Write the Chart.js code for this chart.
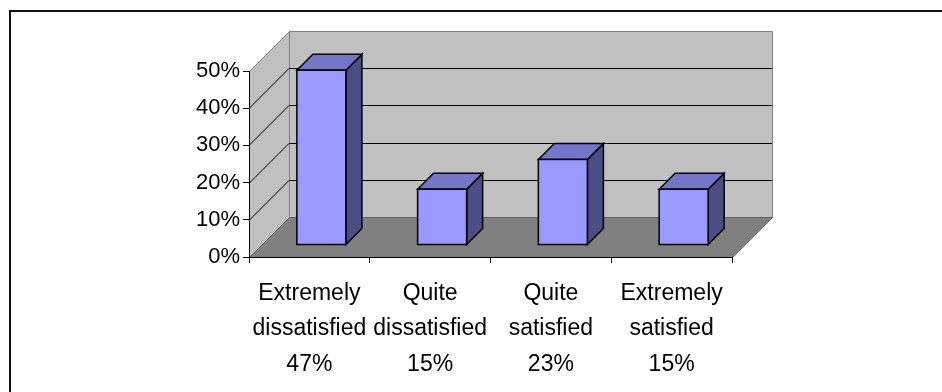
<!DOCTYPE html>
<html>
<head>
<meta charset="utf-8">
<script src="https://cdn.jsdelivr.net/npm/chart.js@4/dist/chart.umd.min.js"></script>
<style>
  html, body { margin: 0; padding: 0; background: #ffffff; overflow: hidden; }
  #wrap { position: relative; width: 942px; height: 392px; }
  #frame { position: absolute; left: 9px; top: 10px; width: 1000px; height: 500px;
           border-left: 2px solid #111; border-top: 2px solid #111; box-sizing: border-box; pointer-events: none; }
  canvas { position: absolute; left: 0; top: 0; }
</style>
</head>
<body>
<div id="wrap">
  <canvas id="c" width="942" height="392"></canvas>
  <div id="frame"></div>
</div>
<script>
// ---- data ----
const categoryNames = [
  ['Extremely', 'dissatisfied'],
  ['Quite', 'dissatisfied'],
  ['Quite', 'satisfied'],
  ['Extremely', 'satisfied']
];
const percentValues = [47, 15, 23, 15];
const yTickValues = [0, 10, 20, 30, 40, 50];

const labels = categoryNames.map((n, i) => n.concat([percentValues[i] + '%']));

// ---- 3D geometry (styles) ----
const DEPTH = 40;        // wall depth (px, 45 deg)
const BAR_SHIFT = 12;    // bar plane offset into depth
const BAR_DEPTH = 16;    // bar thickness
const WALL = '#c0c0c0', WALL_EDGE = '#808080', FLOOR = '#808080';
const BAR_FRONT = '#9999ff', BAR_TOP = '#7676c9', BAR_SIDE = '#4d4d85';

const walls3d = {
  id: 'walls3d',
  beforeDraw(chart) {
    const { ctx, chartArea: a, scales: { y } } = chart;
    const L = a.left, R = a.right, T = y.getPixelForValue(50), B = y.getPixelForValue(0);
    ctx.save();
    ctx.lineWidth = 1;
    // back wall
    ctx.fillStyle = WALL; ctx.strokeStyle = WALL_EDGE;
    ctx.beginPath();
    ctx.rect(L + DEPTH + 0.5, T - DEPTH + 0.5, R - L, B - T);
    ctx.fill(); ctx.stroke();
    // left wall
    ctx.beginPath();
    ctx.moveTo(L + 0.5, T + 0.5); ctx.lineTo(L + DEPTH + 0.5, T - DEPTH + 0.5);
    ctx.lineTo(L + DEPTH + 0.5, B - DEPTH + 0.5); ctx.lineTo(L + 0.5, B + 0.5);
    ctx.closePath(); ctx.fill(); ctx.stroke();
    // floor
    ctx.fillStyle = FLOOR; ctx.strokeStyle = '#606060';
    ctx.beginPath();
    ctx.moveTo(L + 0.5, B + 0.5); ctx.lineTo(R + 0.5, B + 0.5);
    ctx.lineTo(R + DEPTH + 0.5, B - DEPTH + 0.5); ctx.lineTo(L + DEPTH + 0.5, B - DEPTH + 0.5);
    ctx.closePath(); ctx.fill(); ctx.stroke();
    // gridlines on walls
    ctx.strokeStyle = '#000'; ctx.lineWidth = 1;
    yTickValues.forEach(v => {
      if (v === 0 || v === 50) return;
      const py = Math.round(y.getPixelForValue(v)) + 0.5;
      ctx.beginPath();
      ctx.moveTo(L, py); ctx.lineTo(L + DEPTH, py - DEPTH);
      ctx.lineTo(R + DEPTH, py - DEPTH);
      ctx.stroke();
    });
    ctx.restore();
  },
  beforeDatasetsDraw(chart) {
    const ctx = chart.ctx;
    ctx.save();
    ctx.translate(BAR_SHIFT, -BAR_SHIFT);
    const meta = chart.getDatasetMeta(0);
    ctx.lineWidth = 1.5; ctx.strokeStyle = '#000'; ctx.lineJoin = 'miter';
    meta.data.forEach(bar => {
      const { x, y, base, width } = bar.getProps(['x', 'y', 'base', 'width'], true);
      const l = x - width / 2, r = x + width / 2, d = BAR_DEPTH;
      // side
      ctx.fillStyle = BAR_SIDE;
      ctx.beginPath();
      ctx.moveTo(r, y); ctx.lineTo(r + d, y - d); ctx.lineTo(r + d, base - d); ctx.lineTo(r, base);
      ctx.closePath(); ctx.fill(); ctx.stroke();
      // top
      ctx.fillStyle = BAR_TOP;
      ctx.beginPath();
      ctx.moveTo(l, y); ctx.lineTo(l + d, y - d); ctx.lineTo(r + d, y - d); ctx.lineTo(r, y);
      ctx.closePath(); ctx.fill(); ctx.stroke();
    });
  },
  afterDatasetsDraw(chart) {
    const ctx = chart.ctx;
    // redraw front face outlines crisp
    const meta = chart.getDatasetMeta(0);
    ctx.lineWidth = 1.5; ctx.strokeStyle = '#000';
    meta.data.forEach(bar => {
      const { x, y, base, width } = bar.getProps(['x', 'y', 'base', 'width'], true);
      ctx.strokeRect(x - width / 2, y, width, base - y);
    });
    ctx.restore();
  }
};

new Chart(document.getElementById('c'), {
  type: 'bar',
  data: {
    labels: labels,
    datasets: [{
      data: percentValues,
      backgroundColor: BAR_FRONT,
      borderWidth: 0,
      barPercentage: 0.406,
      categoryPercentage: 1.0,
      clip: false
    }]
  },
  options: {
    responsive: false,
    animation: false,
    devicePixelRatio: 1,
    layout: { padding: { top: 71, right: 210, left: 0, bottom: 0 } },
    plugins: { legend: { display: false }, tooltip: { enabled: false } },
    scales: {
      x: {
        afterFit(s) { s.height = 135; },
        grid: { display: true, offset: true, drawOnChartArea: false, drawTicks: true, tickLength: 6, color: '#000', lineWidth: 1 },
        border: { display: true, color: '#000', width: 1 },
        ticks: { color: '#000', padding: 13, maxRotation: 0, autoSkip: false,
                 font: { family: '"Liberation Sans", Arial, sans-serif', size: 23, lineHeight: 1.54 } }
      },
      y: {
        min: 0, max: 50,
        afterFit(s) { s.width = 249; },
        afterBuildTicks(s) { s.ticks = yTickValues.map(v => ({ value: v })); },
        grid: { display: true, drawOnChartArea: false, drawTicks: true, tickLength: 6, color: '#000', lineWidth: 1 },
        border: { display: true, color: '#000', width: 1 },
        ticks: { color: '#000', padding: 3, callback: v => v + '%',
                 font: { family: '"Liberation Sans", Arial, sans-serif', size: 22 } }
      }
    }
  },
  plugins: [walls3d]
});
</script>
</body>
</html>
